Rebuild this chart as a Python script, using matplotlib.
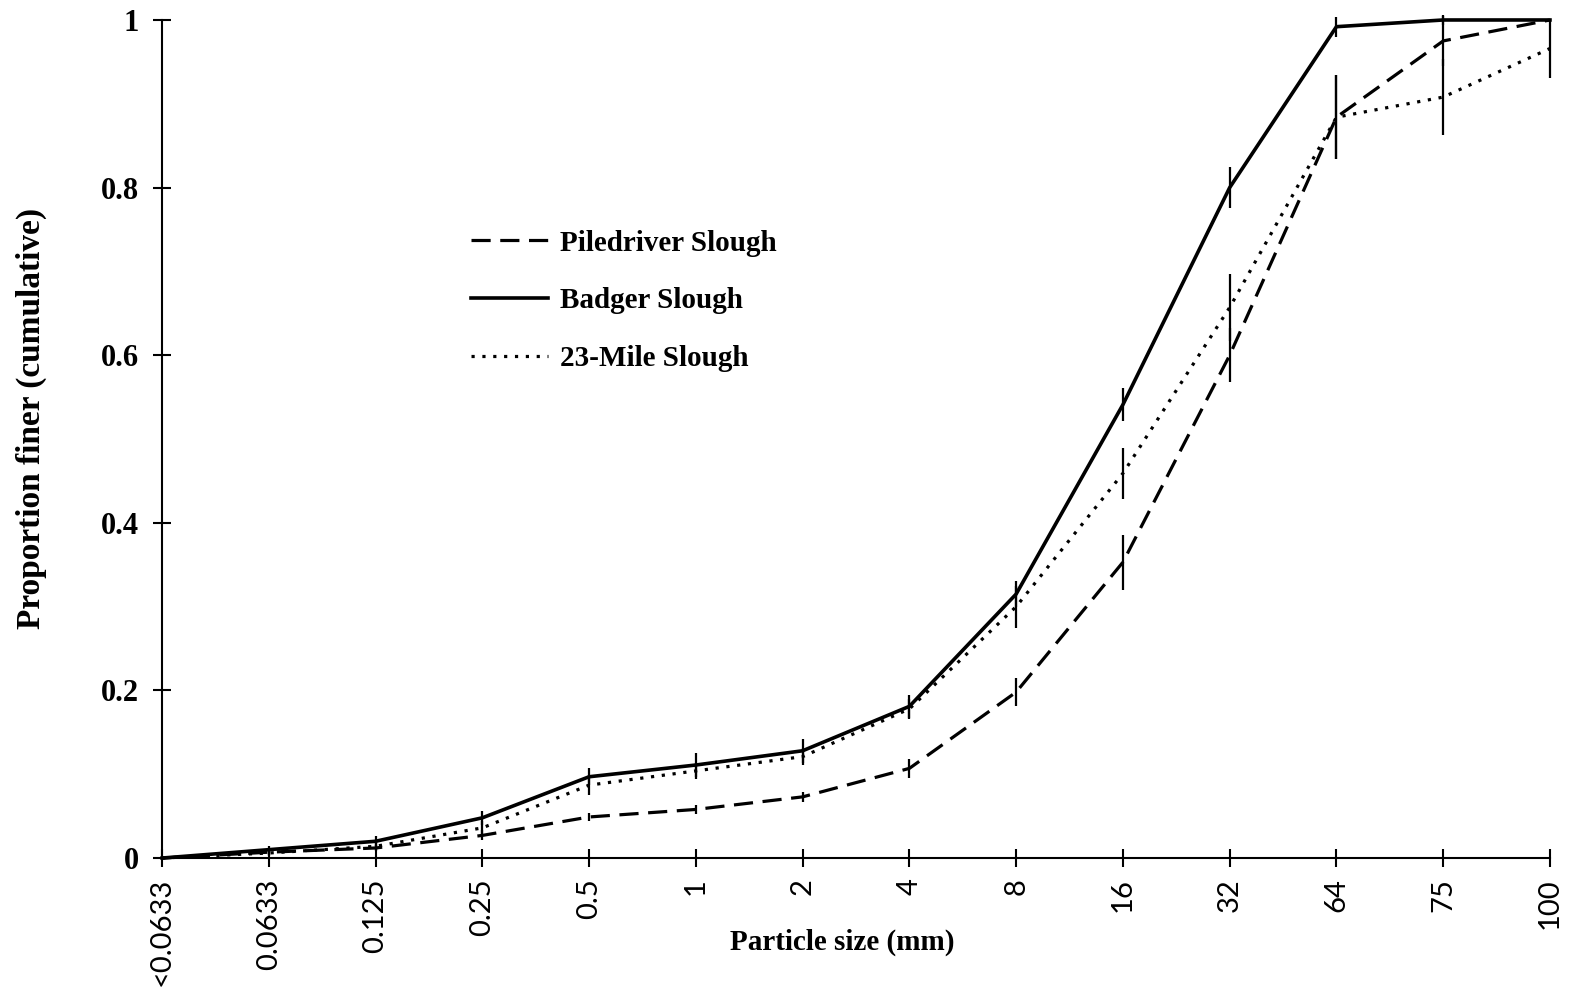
import matplotlib
matplotlib.use("Agg")
import matplotlib.pyplot as plt
from matplotlib.lines import Line2D

# particle size classes (mm)
sizes = ["<0.0633", "0.0633", "0.125", "0.25", "0.5", "1", "2", "4",
         "8", "16", "32", "64", "75", "100"]

# cumulative proportion finer
piledriver = [0, 0.007, 0.012, 0.027, 0.049, 0.058, 0.073, 0.107,
              0.198, 0.353, 0.600, 0.884, 0.975, 1.0]
badger = [0, 0.010, 0.020, 0.048, 0.097, 0.111, 0.128, 0.181,
          0.315, 0.541, 0.800, 0.992, 1.0, 1.0]
mile23 = [0, 0.006, 0.014, 0.036, 0.087, 0.104, 0.121, 0.178,
          0.300, 0.459, 0.657, 0.884, 0.908, 0.966]

# half-length of the vertical error bars
piledriver_err = [0, 0.003, 0.004, 0.006, 0.005, 0.005, 0.006, 0.011,
                  0.017, 0.033, 0.032, 0.050, 0.030, 0]
badger_err = [0, 0.004, 0.006, 0.008, 0.010, 0.014, 0.014, 0.014,
              0.015, 0.020, 0.024, 0.012, 0.006, 0]
mile23_err = [0, 0.003, 0.005, 0.008, 0.012, 0.010, 0.010, 0.012,
              0.025, 0.030, 0.040, 0.050, 0.045, 0.035]

serif = "Liberation Serif"
sans = "Lato"

fig = plt.figure(figsize=(15.75, 9.99), dpi=100)
ax = fig.add_axes([0.1029, 0.1411, 0.8812, 0.8389])

x = list(range(len(sizes)))

styles = [
    ("Piledriver Slough", piledriver, piledriver_err, dict(linestyle=(0, (6.0, 3.0)), linewidth=2.3)),
    ("Badger Slough", badger, badger_err, dict(linestyle="-", linewidth=2.6)),
    ("23-Mile Slough", mile23, mile23_err, dict(linestyle=(0, (1, 2.4)), linewidth=2.3)),
]

handles = []
for name, vals, err, st in styles:
    ax.errorbar(x, vals, yerr=err, fmt="none", ecolor="black", elinewidth=1.6,
                capsize=0, clip_on=False)
    ax.plot(x, vals, color="black", clip_on=False, **st)
    handles.append(Line2D([], [], color="black", **st))

ax.set_xlim(0, len(sizes) - 1)
ax.set_ylim(0, 1)
ax.spines["top"].set_visible(False)
ax.spines["right"].set_visible(False)
ax.spines["left"].set_linewidth(1.5)
ax.spines["bottom"].set_linewidth(1.5)

ax.set_xticks(x)
ax.set_xticklabels(sizes, rotation=90, fontfamily=sans, fontsize=21, va="top")
ax.set_yticks([0, 0.2, 0.4, 0.6, 0.8, 1.0])
ax.set_yticklabels(["0", "0.2", "0.4", "0.6", "0.8", "1"], fontfamily=serif,
                   fontsize=22, fontweight="bold")
ax.tick_params(axis="both", direction="inout", length=13, width=1.5, color="black")
ax.tick_params(axis="x", pad=8)
ax.tick_params(axis="y", pad=10)

ax.set_xlabel("Particle size (mm)", fontfamily=serif, fontsize=21, fontweight="bold")
ax.xaxis.set_label_coords(0.49, -0.084)
ax.set_ylabel("Proportion finer (cumulative)", fontfamily=serif, fontsize=24,
              fontweight="bold")
ax.yaxis.set_label_coords(-0.083, 0.525)

fig.legend(handles, [s[0] for s in styles], loc="center left",
           bbox_to_anchor=(0.299, 0.699), frameon=False, borderpad=0,
           borderaxespad=0, handlelength=2.65, handletextpad=0.4,
           labelspacing=1.05, prop={"family": serif, "size": 21, "weight": "bold"})

fig.savefig("out.png", dpi=100)
